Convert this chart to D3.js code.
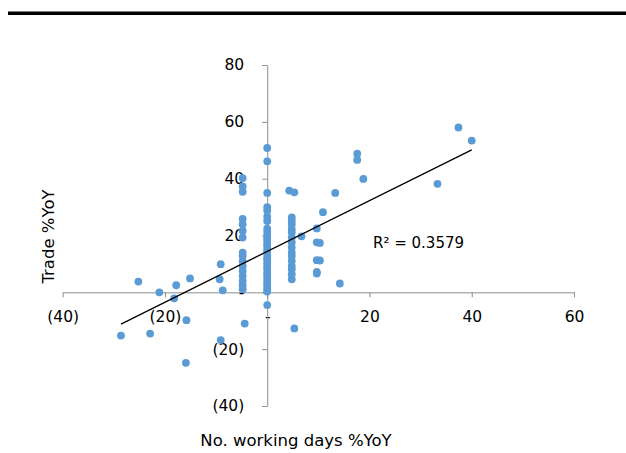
<!DOCTYPE html>
<html>
<head>
<meta charset="utf-8">
<script src="https://cdn.jsdelivr.net/npm/d3@7"></script>
<style>
  body { margin: 0; background: #fff; }
  svg text { font-family: "DejaVu Sans", Verdana, sans-serif; fill: #000; }
</style>
</head>
<body>
<svg id="chart" width="626" height="453"></svg>
<script>
// working days %YoY columns and their trade %YoY values
let zeroDayTrade = [50.8, 46.1, 35.0, 30.0, 28.8, 26.6, 25.1, 22.4, 21.3, 20.1, 19.0, 18.2, 17.1,
  16.3, 15.0, 14.2, 13.1, 12.0, 11.3, 10.2, 9.1, 8.3, 7.0, 6.1, 5.2, 4.0, 3.1, 2.2, 1.0, 0.3, -4.5];
let minusFiveTrade = [40.2, 37.3, 35.4, 25.8, 24.0, 21.7, 19.3, 14.0, 12.8, 11.0, 9.3, 7.5, 5.8, 4.0, 2.4, 1.1];
let plusFiveTrade = [26.4, 25.2, 24.0, 22.3, 21.1, 19.3, 17.6, 15.8, 14.0, 12.8, 11.1, 9.3, 8.1, 6.4, 4.6];
let plusTenTrade = [22.5, 17.6, 11.3, 7.2, 6.6];

// other single points: [working days %YoY, trade %YoY]
let otherPoints = [
  [-28.6, -15.2], [-25.2, 3.8], [-22.9, -14.5], [-21.1, 0.0], [-18.2, -2.1], [-17.8, 2.5],
  [-15.9, -24.8], [-15.8, -9.8], [-15.1, 4.9], [-9.1, 9.9], [-9.3, 4.6], [-8.7, 0.7],
  [-9.1, -16.8], [-4.4, -11.0], [5.3, -12.7], [4.3, 35.8], [5.3, 35.2], [6.7, 19.7],
  [10.3, 17.4], [10.3, 11.2], [10.9, 28.2], [14.2, 3.1], [13.3, 35.0], [18.8, 39.9],
  [17.6, 48.8], [17.6, 46.6], [33.3, 38.2], [37.4, 58.0], [40.0, 53.4]
];

let xTicks = [-40, -20, 0, 20, 40, 60];
let yTicks = [-40, -20, 0, 20, 40, 60, 80];
let trendSlope = 0.894;
let trendIntercept = 14.4;
let rSquaredLabel = 'R² = 0.3579';

let data = [];
for (let v of zeroDayTrade) data.push({x: 0, y: v});
for (let v of minusFiveTrade) data.push({x: -4.8, y: v});
for (let v of plusFiveTrade) data.push({x: 4.8, y: v});
for (let v of plusTenTrade) data.push({x: 9.7, y: v});
for (let p of otherPoints) data.push({x: p[0], y: p[1]});

let svg = d3.select('#chart');
let axisColor = '#8c8c8c';
let fmt = d => d === 0 ? '-' : (d < 0 ? `(${-d})` : `${d}`);

let xScale = d3.scaleLinear()
  .domain([-40, 60])
  .range([62.7, 574]);
let yScale = d3.scaleLinear()
  .domain([-40, 80])
  .range([406, 65]);

// black rule at the top
svg.append('rect')
  .attr('x', 8).attr('y', 11.5)
  .attr('width', 618).attr('height', 3.5)
  .attr('fill', '#000');

// x axis through y = 0
let xAx = svg.append('g')
  .attr('transform', `translate(0,${yScale(0)})`)
  .call(d3.axisBottom(xScale).tickValues(xTicks).tickSize(5).tickSizeOuter(0).tickFormat(fmt));

// y axis through x = 0
let yAx = svg.append('g')
  .attr('transform', `translate(${xScale(0)},0)`)
  .call(d3.axisLeft(yScale).tickValues(yTicks).tickSize(5).tickSizeOuter(0).tickFormat(fmt));

for (let g of [xAx, yAx]) {
  g.select('.domain').attr('stroke', axisColor);
  g.selectAll('.tick line').attr('stroke', axisColor);
  g.selectAll('.tick text')
    .style('font-family', '"DejaVu Sans", Verdana, sans-serif')
    .style('font-size', '15.5px')
    .attr('fill', '#000');
}
xAx.selectAll('.tick text').attr('y', 19).attr('dy', '0.71em');
yAx.selectAll('.tick text').attr('x', -23);

// points
svg.append('g')
  .selectAll('circle')
  .data(data)
  .join('circle')
  .attr('cx', d => xScale(d.x))
  .attr('cy', d => yScale(d.y))
  .attr('r', 3.9)
  .attr('fill', '#5b9bd5');

// linear trend line
let xExt = d3.extent(data, d => d.x);
let trend = xExt.map(x => ({x: x, y: trendSlope * x + trendIntercept}));
svg.append('path')
  .datum(trend)
  .attr('d', d3.line().x(d => xScale(d.x)).y(d => yScale(d.y)))
  .attr('fill', 'none')
  .attr('stroke', '#000')
  .attr('stroke-width', 1.3);

svg.append('text')
  .attr('x', 373).attr('y', 248)
  .style('font-size', '15px')
  .text(rSquaredLabel);

// axis titles
svg.append('text')
  .attr('x', 296).attr('y', 446)
  .attr('text-anchor', 'middle')
  .style('font-size', '16.5px')
  .text('No. working days %YoY');
svg.append('text')
  .attr('transform', `translate(54,${yScale(20) + 1}) rotate(-90)`)
  .attr('text-anchor', 'middle')
  .style('font-size', '16.5px')
  .text('Trade %YoY');
</script>
</body>
</html>
